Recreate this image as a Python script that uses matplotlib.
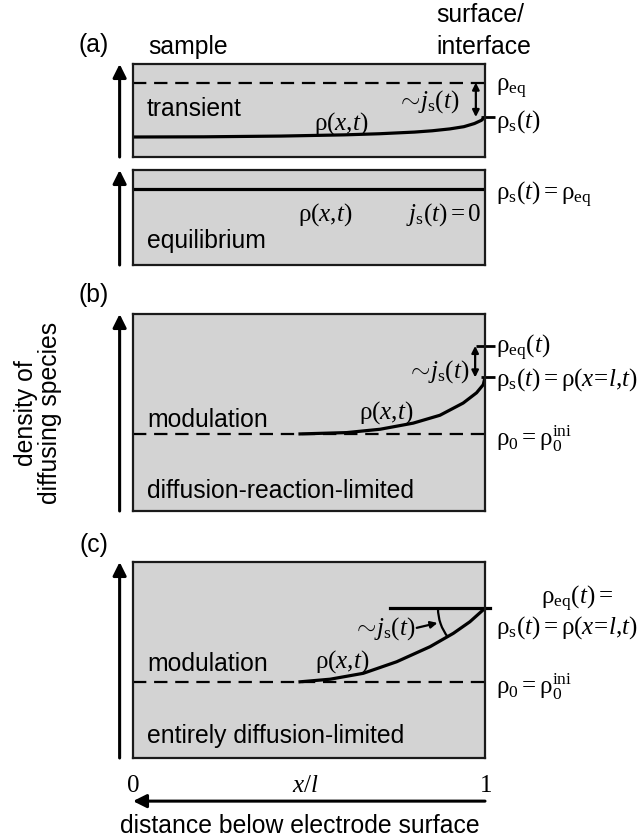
import matplotlib
matplotlib.use('Agg')
import matplotlib.pyplot as plt
from matplotlib.patches import Arc
import numpy as np

plt.rcParams['font.family'] = ['Liberation Sans', 'DejaVu Sans']
plt.rcParams['mathtext.fontset'] = 'custom'
plt.rcParams['mathtext.rm'] = 'Liberation Serif'
plt.rcParams['mathtext.it'] = 'Liberation Serif:italic'
plt.rcParams['mathtext.bf'] = 'Liberation Serif:bold'

W, H = 644, 840

# normalised density levels (0 = bottom of box, 1 = top of box), x = x/l
a_eq_level = 0.80
a_x = [0, 0.2, 0.42, 0.6, 0.7, 0.8, 0.85, 0.9, 0.94, 0.97, 0.99, 1.0]
a_rho = [0.215, 0.217, 0.225, 0.238, 0.25, 0.268, 0.282, 0.302, 0.326, 0.36, 0.395, 0.43]

eq_level = 0.80  # equilibrium panel, flat profile

b_rho0 = 0.391
b_eq_level = 0.838
b_x = [0.47, 0.607, 0.702, 0.796, 0.872, 0.938, 0.976, 0.995, 1.0]
b_rho = [0.391, 0.398, 0.415, 0.446, 0.486, 0.548, 0.60, 0.641, 0.678]

c_rho0 = 0.388
c_x = [0.47, 0.56, 0.654, 0.749, 0.844, 0.91, 0.957, 1.0]
c_rho = [0.388, 0.402, 0.432, 0.491, 0.568, 0.636, 0.695, 0.764]

GREY = '#d3d3d3'
FS = 17.8    # sans labels
FSM = 18     # serif / math labels
DASH = (0, (6, 3.5))


def px_axes(l, t, r, b):
    ax = fig.add_axes([l / W, 1 - b / H, (r - l) / W, (b - t) / H])
    ax.set_xlim(0, 1)
    ax.set_ylim(0, 1)
    ax.set_facecolor(GREY)
    ax.set_xticks([])
    ax.set_yticks([])
    for s in ax.spines.values():
        s.set_linewidth(1.6)
        s.set_color('#1a1a1a')
    # vertical density arrow on the left
    ax.annotate('', xy=(-0.038, 1.0), xytext=(-0.038, 0.0), xycoords='axes fraction',
                arrowprops=dict(arrowstyle='-|>', lw=2.2, color='k', mutation_scale=20,
                                shrinkA=0, shrinkB=0))
    return ax


def ftext(x, y, s, **kw):
    kw.setdefault('fontsize', FS)
    fig.text(x / W, 1 - y / H, s, **kw)


def rlabel(ax, y, s, dy=0.0):
    ax.text(1.03, y + dy, s, fontsize=FSM, va='center', ha='left', clip_on=False)


def dbl_arrow(ax, x, y0, y1):
    ax.annotate('', xy=(x, y1), xytext=(x, y0),
                arrowprops=dict(arrowstyle='<|-|>', lw=1.6, color='k', mutation_scale=10,
                                shrinkA=0, shrinkB=0))


def tick(ax, y, x0=0.975, x1=1.028):
    ax.plot([x0, x1], [y, y], color='k', lw=2, clip_on=False, solid_capstyle='butt')


fig = plt.figure(figsize=(W / 100, H / 100), dpi=100)

rho = r'\mathrm{ρ}'
rho_xt = rf'${rho}(x{{,}}t)$'
rho_surf = rf'${rho}_\mathrm{{s}}(t) = {rho}(x\!=\!l{{,}}t)$'

# ---------------- (a) transient ----------------
ax1 = px_axes(133, 64, 485, 157)
ax1.axhline(a_eq_level, color='k', lw=1.6, ls=DASH)
ax1.plot(a_x, a_rho, color='k', lw=2.3, solid_capstyle='butt')
dbl_arrow(ax1, 0.974, a_eq_level, a_rho[-1])
tick(ax1, a_rho[-1], 0.99, 1.028)
ax1.text(0.04, 0.52, 'transient', fontsize=FS, va='center')
ax1.text(0.59, 0.36, rho_xt, fontsize=FSM, ha='center', va='center')
ax1.text(0.84, 0.60, r'$\sim\!j_\mathrm{s}(t)$', fontsize=FSM, ha='center', va='center')
rlabel(ax1, a_eq_level, rf'${rho}_\mathrm{{eq}}$', dy=-0.07)
rlabel(ax1, a_rho[-1], rf'${rho}_\mathrm{{s}}(t)$', dy=-0.05)

# ---------------- (a) equilibrium ----------------
ax2 = px_axes(133, 170, 485, 265)
ax2.axhline(eq_level, color='k', lw=2.3)
ax2.text(0.04, 0.25, 'equilibrium', fontsize=FS, va='center')
ax2.text(0.545, 0.53, rho_xt, fontsize=FSM, ha='center', va='center')
ax2.text(0.99, 0.53, r'$j_\mathrm{s}(t) = 0$', fontsize=FSM, ha='right', va='center')
rlabel(ax2, eq_level, rf'${rho}_\mathrm{{s}}(t) = {rho}_\mathrm{{eq}}$', dy=-0.06)

# ---------------- (b) ----------------
ax3 = px_axes(133, 314, 485, 511)
ax3.axhline(b_rho0, color='k', lw=1.6, ls=DASH)
ax3.plot(b_x, b_rho, color='k', lw=2.3, solid_capstyle='butt')
dbl_arrow(ax3, 0.972, b_eq_level, b_rho[-1])
tick(ax3, b_eq_level)
tick(ax3, b_rho[-1], 0.99, 1.028)
ax3.text(0.04, 0.46, 'modulation', fontsize=FS, va='center')
ax3.text(0.04, 0.10, 'diffusion-reaction-limited', fontsize=FS, va='center')
ax3.text(0.72, 0.50, rho_xt, fontsize=FSM, ha='center', va='center')
ax3.text(0.957, 0.71, r'$\sim\!j_\mathrm{s}(t)$', fontsize=FSM, ha='right', va='center')
rlabel(ax3, b_eq_level, rf'${rho}_\mathrm{{eq}}(t)$', dy=-0.01)
rlabel(ax3, b_rho[-1], rho_surf, dy=-0.01)
rlabel(ax3, b_rho0, rf'${rho}_0 = {rho}_0^\mathrm{{ini}}$', dy=-0.025)

# ---------------- (c) ----------------
ax4 = px_axes(133, 562, 485, 758)
ax4.axhline(c_rho0, color='k', lw=1.6, ls=DASH)
ax4.plot(c_x, c_rho, color='k', lw=2.3, solid_capstyle='butt')
ax4.plot([0.73, 1.015], [c_rho[-1], c_rho[-1]], color='k', lw=2.3, clip_on=False)
# angle mark between the surface level and the profile slope
r_px = 47
bw, bh = ax4.bbox.width, ax4.bbox.height
ang = np.degrees(np.arctan2(c_rho[-1] - c_rho[-3], c_x[-1] - c_x[-3]))
ax4.add_patch(Arc((1.0, c_rho[-1]), 2 * r_px / bw, 2 * r_px / bh,
                  theta1=180, theta2=180 + ang, lw=1.6, color='k'))
ax4.annotate('', xy=(0.865, c_rho[-1] - 0.075), xytext=(0.806, c_rho[-1] - 0.1),
             arrowprops=dict(arrowstyle='-|>', lw=1.6, color='k', mutation_scale=10,
                             shrinkA=0, shrinkB=0))
ax4.text(0.803, c_rho[-1] - 0.105, r'$\sim\!j_\mathrm{s}(t)$', fontsize=FSM, ha='right', va='center')
ax4.text(0.04, 0.48, 'modulation', fontsize=FS, va='center')
ax4.text(0.04, 0.11, 'entirely diffusion-limited', fontsize=FS, va='center')
ax4.text(0.595, 0.49, rho_xt, fontsize=FSM, ha='center', va='center')
ax4.text(1.26, c_rho[-1] + 0.045, rf'${rho}_\mathrm{{eq}}(t) =$', fontsize=FSM,
         ha='center', va='center', clip_on=False)
rlabel(ax4, c_rho[-1], rho_surf, dy=-0.1)
rlabel(ax4, c_rho0, rf'${rho}_0 = {rho}_0^\mathrm{{ini}}$', dy=-0.025)

# x axis below panel (c)
ax4.text(0.0, -0.14, r'$0$', fontsize=FSM, ha='center', va='center')
ax4.text(1.0, -0.14, r'$1$', fontsize=FSM, ha='center', va='center')
ax4.text(0.49, -0.14, r'$x/l$', fontsize=FSM, ha='center', va='center')
ax4.annotate('', xy=(0.0, -0.22), xytext=(1.0, -0.22), xycoords='axes fraction',
             arrowprops=dict(arrowstyle='-|>', lw=2.2, color='k', mutation_scale=20,
                             shrinkA=0, shrinkB=0))
ftext(300, 826, 'distance below electrode surface', ha='center', va='center')

# headers, panel letters, y label
ftext(148, 47, 'sample', va='center')
ftext(436, 15, 'surface/', va='center')
ftext(436, 47, 'interface', va='center')
ftext(94, 45, '(a)', ha='center', va='center')
ftext(94, 295, '(b)', ha='center', va='center')
ftext(94, 545, '(c)', ha='center', va='center')
ftext(38, 413, 'density of\ndiffusing species', ha='center', va='center',
      rotation=90, linespacing=1.05)

fig.savefig('out.png', dpi=100)
